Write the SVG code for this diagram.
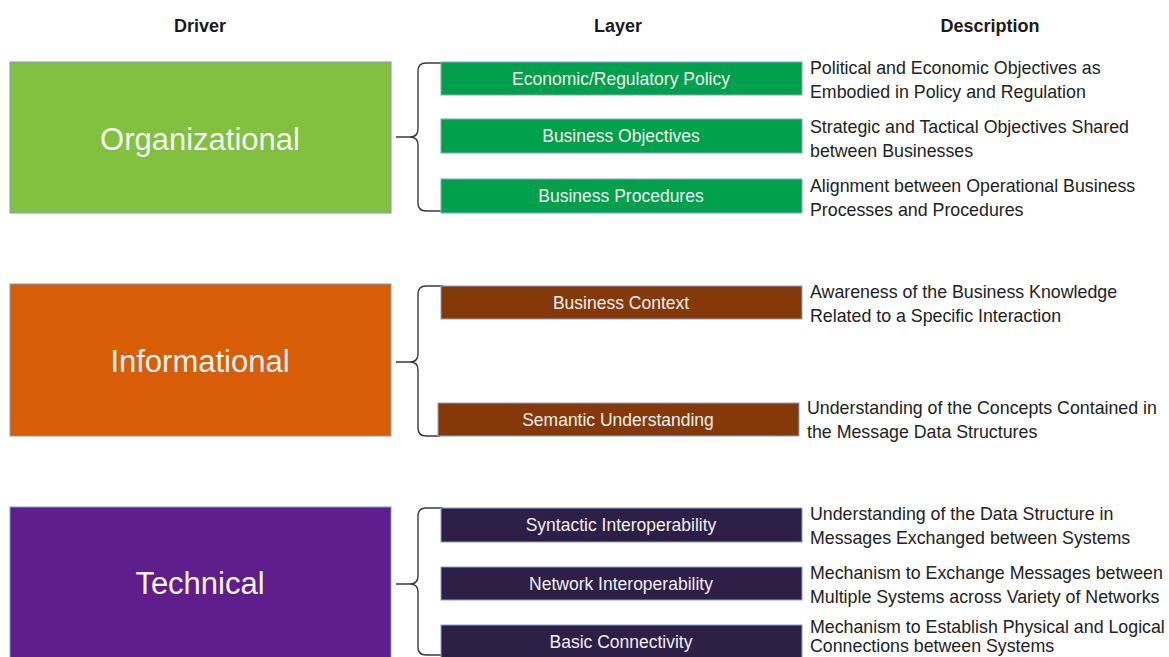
<svg xmlns="http://www.w3.org/2000/svg" width="1169" height="657" viewBox="0 0 1169 657">
<style>
text{font-family:"Liberation Sans",Arial,sans-serif}
.hdr{font-size:18px;font-weight:bold;fill:#1a1a1a;text-anchor:middle}
.drv{stroke:#7f9cc0;stroke-width:1}
.drvt{font-size:31px;fill:#f4f4f4;text-anchor:middle}
.lay{stroke:#8aa4c8;stroke-width:1}
.layt{font-size:17.5px;fill:#f0f0f0;text-anchor:middle}
.desc{font-size:17.8px;fill:#222}
.brace{fill:none;stroke:#3a3a3a;stroke-width:1.4}
</style>
<rect width="1169" height="657" fill="#ffffff"/>
<g id="headers">
<text class="hdr" x="200" y="32">Driver</text>
<text class="hdr" x="618" y="32">Layer</text>
<text class="hdr" x="990" y="32">Description</text>
</g>
<g id="drv-organizational"><rect class="drv" x="10" y="62" width="381" height="151" fill="#82c03f"/><text class="drvt" x="200" y="150">Organizational</text></g>
<g id="drv-informational"><rect class="drv" x="10" y="284" width="381" height="152" fill="#d95d07"/><text class="drvt" x="200" y="372">Informational</text></g>
<g id="drv-technical"><rect class="drv" x="10" y="507" width="381" height="160" fill="#5f1e8c"/><text class="drvt" x="200" y="594">Technical</text></g>
<g id="connectors">
<path class="brace" d="M443 63 L426 63 Q418 63 418 71 L418 129 Q418 137 410 137 L396 137 M410 137 Q418 137 418 145 L418 203 Q418 211 426 211 L443 211"/>
<path class="brace" d="M443 286 L426 286 Q418 286 418 294 L418 354 Q418 362 410 362 L396 362 M410 362 Q418 362 418 370 L418 428 Q418 436 426 436 L440 436"/>
<path class="brace" d="M443 508 L426 508 Q418 508 418 516 L418 576 Q418 584 410 584 L396 584 M410 584 Q418 584 418 592 L418 647 Q418 655 426 655 L443 655"/>
</g>
<g id="layer-economic"><rect class="lay" x="441" y="62" width="361" height="33" fill="#00a04c"/><text class="layt" x="621" y="85">Economic/Regulatory Policy</text></g>
<g id="layer-business-objectives"><rect class="lay" x="441" y="119" width="361" height="34" fill="#00a04c"/><text class="layt" x="621" y="142">Business Objectives</text></g>
<g id="layer-business-procedures"><rect class="lay" x="441" y="179" width="361" height="34" fill="#00a04c"/><text class="layt" x="621" y="202">Business Procedures</text></g>
<g id="layer-business-context"><rect class="lay" x="441" y="286" width="361" height="33" fill="#853808"/><text class="layt" x="621" y="309">Business Context</text></g>
<g id="layer-semantic"><rect class="lay" x="438" y="403" width="361" height="33" fill="#853808"/><text class="layt" x="618" y="426">Semantic Understanding</text></g>
<g id="layer-syntactic"><rect class="lay" x="441" y="508" width="361" height="34" fill="#2d1f45"/><text class="layt" x="621" y="531">Syntactic Interoperability</text></g>
<g id="layer-network"><rect class="lay" x="441" y="567" width="361" height="33" fill="#2d1f45"/><text class="layt" x="621" y="590">Network Interoperability</text></g>
<g id="layer-basic"><rect class="lay" x="441" y="625" width="361" height="40" fill="#2d1f45"/><text class="layt" x="621" y="648">Basic Connectivity</text></g>
<g id="descriptions">
<text class="desc" x="810" y="74">Political and Economic Objectives as</text>
<text class="desc" x="810" y="98">Embodied in Policy and Regulation</text>
<text class="desc" x="810" y="133">Strategic and Tactical Objectives Shared</text>
<text class="desc" x="810" y="157">between Businesses</text>
<text class="desc" x="810" y="192">Alignment between Operational Business</text>
<text class="desc" x="810" y="216">Processes and Procedures</text>
<text class="desc" x="810" y="298">Awareness of the Business Knowledge</text>
<text class="desc" x="810" y="322">Related to a Specific Interaction</text>
<text class="desc" x="807" y="414">Understanding of the Concepts Contained in</text>
<text class="desc" x="807" y="438">the Message Data Structures</text>
<text class="desc" x="810" y="520">Understanding of the Data Structure in</text>
<text class="desc" x="810" y="544">Messages Exchanged between Systems</text>
<text class="desc" x="810" y="579">Mechanism to Exchange Messages between</text>
<text class="desc" x="810" y="603">Multiple Systems across Variety of Networks</text>
<text class="desc" x="810" y="633">Mechanism to Establish Physical and Logical</text>
<text class="desc" x="810" y="652">Connections between Systems</text>
</g>
</svg>
